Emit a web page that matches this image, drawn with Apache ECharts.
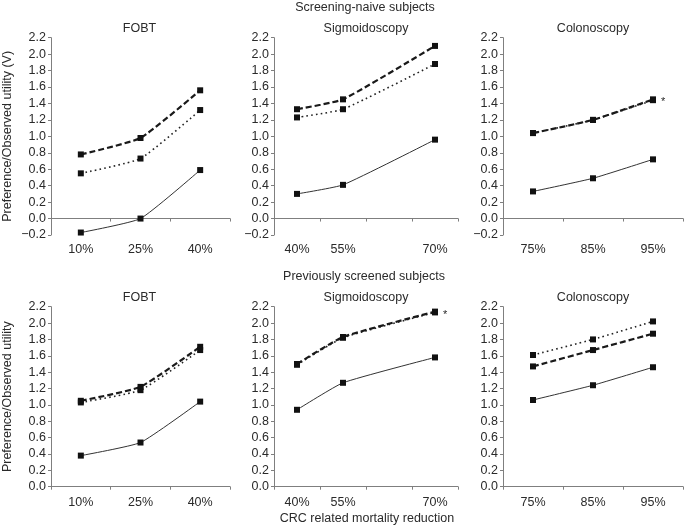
<!DOCTYPE html>
<html><head><meta charset="utf-8">
<script src="https://cdn.jsdelivr.net/npm/echarts@6/dist/echarts.min.js"></script>
<style>html,body{margin:0;padding:0;background:#fff}#c{width:685px;height:527px}</style>
</head><body><div id="c"></div>
<script>
// Categories
const fobtCats = ['10%', '25%', '40%'];
const sigCats = ['40%', '55%', '', '70%'];
const colCats = ['75%', '85%', '95%'];

// Screening-naive subjects
const naiveFobtDashed = [0.78, 0.98, 1.56];
const naiveFobtDotted = [0.55, 0.73, 1.32];
const naiveFobtSolid = [-0.17, 0.00, 0.59];
const naiveSigDashed = [1.33, 1.45, null, 2.10];
const naiveSigDotted = [1.23, 1.33, null, 1.88];
const naiveSigSolid = [0.30, 0.41, null, 0.96];
const naiveColDashed = [1.04, 1.20, 1.45];
const naiveColDotted = [1.04, 1.20, 1.44];
const naiveColSolid = [0.33, 0.49, 0.72];

// Previously screened subjects
const prevFobtDashed = [1.05, 1.22, 1.71];
const prevFobtDotted = [1.03, 1.18, 1.67];
const prevFobtSolid = [0.38, 0.54, 1.04];
const prevSigDashed = [1.50, 1.83, null, 2.14];
const prevSigDotted = [1.49, 1.82, null, 2.13];
const prevSigSolid = [0.94, 1.27, null, 1.58];
const prevColDashed = [1.47, 1.67, 1.87];
const prevColDotted = [1.61, 1.80, 2.02];
const prevColSolid = [1.06, 1.24, 1.46];

const FONT = 'Liberation Sans, Arial, sans-serif';
const AX = '#7f7f7f';
const TX = '#2a2a2a';
const FS = 12.5;

const panels = [
  {row: 0, left: 49, width: 181, cats: fobtCats, d: naiveFobtDashed, o: naiveFobtDotted, s: naiveFobtSolid, title: 'FOBT', yname: 'Preference/Observed utility (V)'},
  {row: 0, left: 274, width: 184, cats: sigCats, d: naiveSigDashed, o: naiveSigDotted, s: naiveSigSolid, title: 'Sigmoidoscopy'},
  {row: 0, left: 503, width: 180, cats: colCats, d: naiveColDashed, o: naiveColDotted, s: naiveColSolid, title: 'Colonoscopy', star: true},
  {row: 1, left: 49, width: 181, cats: fobtCats, d: prevFobtDashed, o: prevFobtDotted, s: prevFobtSolid, title: 'FOBT', yname: 'Preference/Observed utility'},
  {row: 1, left: 274, width: 184, cats: sigCats, d: prevSigDashed, o: prevSigDotted, s: prevSigSolid, title: 'Sigmoidoscopy', star: true},
  {row: 1, left: 503, width: 180, cats: colCats, d: prevColDashed, o: prevColDotted, s: prevColSolid, title: 'Colonoscopy'}
];
const rows = [
  {top: 37.7, height: 197.3, min: -0.2, margin: 8},
  {top: 306.7, height: 180, min: 0, margin: 9}
];

const grid = [], xAxis = [], yAxis = [], series = [], graphic = [];
function fmt(v) {
  if (Math.abs(v) < 1e-9) return '0.0';
  return v < 0 ? '\u2212' + Math.abs(v).toFixed(1) : v.toFixed(1);
}
panels.forEach((p, i) => {
  const r = rows[p.row];
  grid.push({left: p.left, top: r.top, width: p.width, height: r.height, containLabel: false});
  const labelAxisIdx = xAxis.length;
  xAxis.push({
    type: 'category', gridIndex: i, data: p.cats, position: 'bottom', boundaryGap: true,
    axisLine: {show: p.row === 1, onZero: false, lineStyle: {color: AX, width: 1}},
    axisTick: {show: p.row === 1, length: 3, lineStyle: {color: AX}},
    axisLabel: {color: TX, fontSize: FS, fontFamily: FONT, margin: r.margin, interval: 0},
    splitLine: {show: false}
  });
  if (p.row === 0) {
    xAxis.push({
      type: 'category', gridIndex: i, data: p.cats, position: 'bottom', boundaryGap: true,
      axisLine: {show: true, onZero: true, lineStyle: {color: AX, width: 1}},
      axisTick: {show: true, length: 3, lineStyle: {color: AX}},
      axisLabel: {show: false},
      splitLine: {show: false}
    });
  }
  yAxis.push({
    type: 'value', gridIndex: i, min: r.min, max: 2.2, interval: 0.2,
    name: p.yname || '', nameLocation: 'middle', nameGap: 37,
    nameTextStyle: {color: TX, fontSize: FS, fontFamily: FONT},
    axisLine: {show: true, lineStyle: {color: AX}},
    axisTick: {show: true, length: 3, lineStyle: {color: AX}},
    axisLabel: {color: TX, fontSize: FS, fontFamily: FONT, margin: 5, formatter: fmt},
    splitLine: {show: false}
  });
  const base = {
    type: 'line', xAxisIndex: labelAxisIdx, yAxisIndex: i, connectNulls: true, smooth: 0.15,
    symbol: 'rect', symbolSize: 6, itemStyle: {color: '#111'}, silent: true, animation: false
  };
  series.push(Object.assign({}, base, {
    name: 'solid', data: p.s, lineStyle: {color: '#333', width: 1, type: 'solid'}
  }));
  series.push(Object.assign({}, base, {
    name: 'dotted', data: p.o, lineStyle: {color: '#222', width: 1.6, type: [1.6, 3.2]}
  }));
  const dd = p.d.map((v, k) => {
    if (p.star && k === p.d.length - 1) {
      return {value: v, label: {show: true, position: 'right', formatter: '*', color: TX, fontSize: 11, fontFamily: FONT, offset: [0, 3]}};
    }
    return v;
  });
  series.push(Object.assign({}, base, {
    name: 'dashed', data: dd, lineStyle: {color: '#1a1a1a', width: 2.2, type: [6, 3]}
  }));
  graphic.push({type: 'text', x: p.left + p.width / 2, y: r.top - 9,
    style: {text: p.title, fill: TX, font: FS + 'px ' + FONT, align: 'center', verticalAlign: 'middle'}});
});
graphic.push({type: 'text', x: 365, y: 8, style: {text: 'Screening-naive subjects', fill: TX, font: FS + 'px ' + FONT, align: 'center', verticalAlign: 'middle'}});
graphic.push({type: 'text', x: 364, y: 277, style: {text: 'Previously screened subjects', fill: TX, font: FS + 'px ' + FONT, align: 'center', verticalAlign: 'middle'}});
graphic.push({type: 'text', x: 367, y: 519, style: {text: 'CRC related mortality reduction', fill: TX, font: FS + 'px ' + FONT, align: 'center', verticalAlign: 'middle'}});

const chart = echarts.init(document.getElementById('c'), null, {renderer: 'canvas'});
chart.setOption({animation: false, backgroundColor: '#fff', grid, xAxis, yAxis, series, graphic});
</script>
</body></html>
